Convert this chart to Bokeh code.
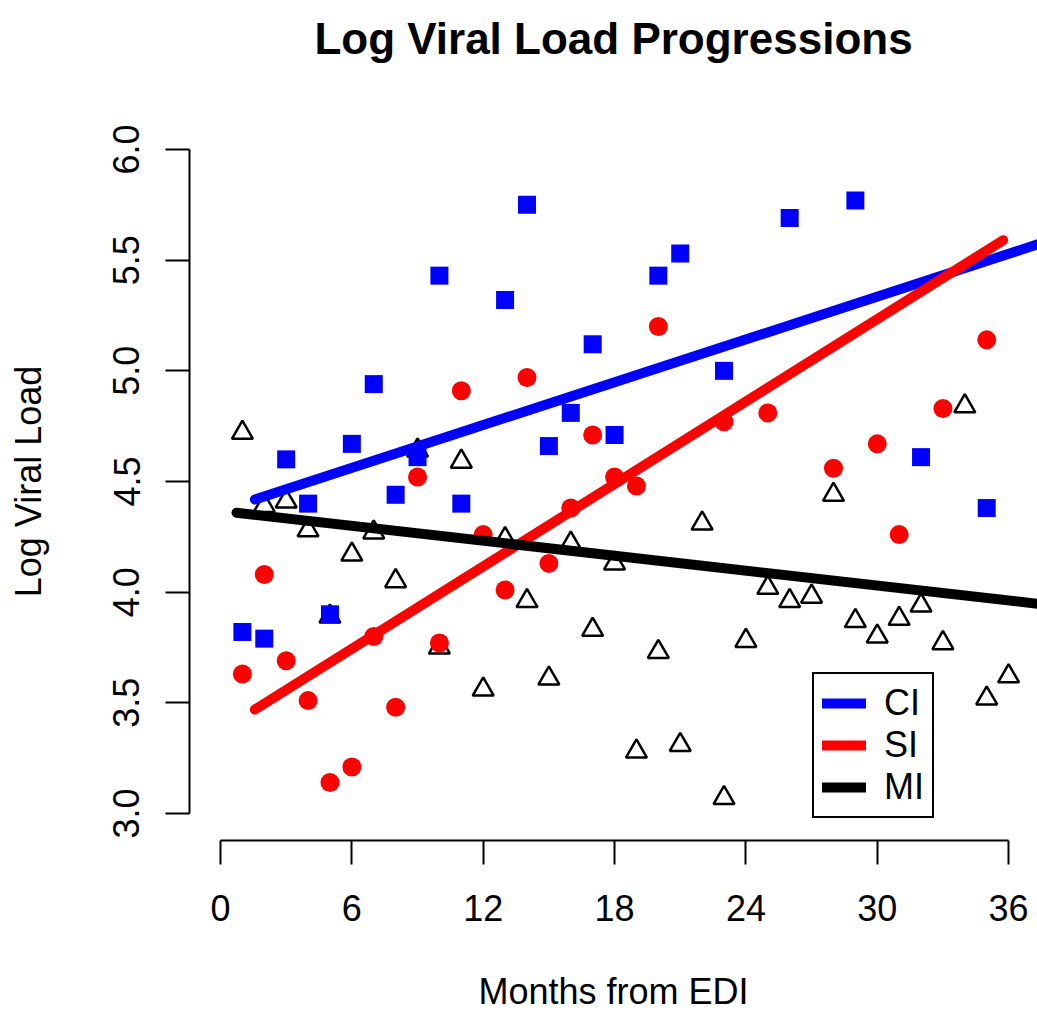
import numpy as np
from bokeh.plotting import figure
from bokeh.models import (Range1d, Legend, LegendItem, FixedTicker, PrintfTickFormatter, Title)
from bokeh.embed import file_html
from bokeh.resources import INLINE

# ---- data ----
ci_months = [1, 2, 3, 4, 5, 6, 7, 8, 9, 10, 11, 13, 14, 15, 16, 17, 18, 20, 21, 23, 26, 29, 32, 35]
ci_vl = [3.82, 3.79, 4.60, 4.40, 3.90, 4.67, 4.94, 4.44, 4.61, 5.43, 4.40, 5.32, 5.75, 4.66,
         4.81, 5.12, 4.71, 5.43, 5.53, 5.00, 5.69, 5.77, 4.61, 4.38]

si_months = [1, 2, 3, 4, 5, 6, 7, 8, 9, 10, 11, 12, 13, 14, 15, 16, 17, 18, 19, 20, 23, 25, 28, 30, 31, 33, 35]
si_vl = [3.63, 4.08, 3.69, 3.51, 3.14, 3.21, 3.80, 3.48, 4.52, 3.77, 4.91, 4.26, 4.01, 4.97,
         4.13, 4.38, 4.71, 4.52, 4.48, 5.20, 4.77, 4.81, 4.56, 4.67, 4.26, 4.83, 5.14]

mi_months = list(range(1, 37))
mi_vl = [4.72, 4.39, 4.41, 4.28, 3.89, 4.17, 4.27, 4.05, 4.64, 3.75, 4.59, 3.56, 4.24, 3.96,
         3.61, 4.22, 3.83, 4.13, 3.28, 3.73, 3.31, 4.31, 3.07, 3.78, 4.02, 3.96, 3.98, 4.44,
         3.87, 3.80, 3.88, 3.94, 3.77, 4.84, 3.52, 3.62]

fit_groups = ["CI", "SI", "MI"]
fit_intercept = [4.368, 3.372, 4.367]
fit_slope = [0.03224, 0.06205, -0.01124]
fit_start = [1.57, 1.57, 0.73]
fit_end = [38.0, 35.75, 38.0]
fit_colors = ["#0000FF", "#FF0000", "#000000"]

x_ticks = [0, 6, 12, 18, 24, 30, 36]
y_ticks = [3.0, 3.5, 4.0, 4.5, 5.0, 5.5, 6.0]
title_text = "Log Viral Load Progressions"

FONT = "Liberation Sans"

p = figure(width=1037, height=1015,
           x_range=Range1d(-1.416, 37.32), y_range=Range1d(2.878, 6.122),
           output_backend="svg", toolbar_location=None,
           min_border_left=189, min_border_right=0,
           min_border_top=122, min_border_bottom=175,
           background_fill_color="white", border_fill_color="white",
           outline_line_color=None)
p.grid.visible = False
p.title.visible = False

xa = p.below[0]
ya = p.left[0]

# spacer title directly above the frame, then the real title stacked outside it
p.add_layout(Title(text=" ", text_font=FONT, text_font_size="10px", standoff=42), "above")
p.add_layout(Title(text=title_text, align="center", text_font=FONT, text_font_size="44px",
                   text_font_style="bold", text_color="black", standoff=10, offset=4), "above")

for ax, ticks, lab in ((xa, x_ticks, "Months from EDI"), (ya, y_ticks, "Log Viral Load")):
    ax.ticker = FixedTicker(ticks=ticks)
    ax.bounds = (ticks[0], ticks[-1])
    ax.major_tick_out = 24
    ax.major_tick_in = 0
    ax.minor_tick_out = 0
    ax.minor_tick_in = 0
    ax.axis_line_width = 2
    ax.major_tick_line_width = 2
    ax.axis_line_color = "black"
    ax.major_tick_line_color = "black"
    ax.major_label_text_font = FONT
    ax.major_label_text_font_size = "36px"
    ax.major_label_text_color = "black"
    ax.axis_label = lab
    ax.axis_label_text_font = FONT
    ax.axis_label_text_font_size = "36px"
    ax.axis_label_text_font_style = "normal"
    ax.axis_label_text_color = "black"

xa.major_label_standoff = 30
xa.axis_label_standoff = 47
ya.major_label_standoff = 26
ya.axis_label_standoff = 62
ya.major_label_orientation = "vertical"
ya.formatter = PrintfTickFormatter(format="%.1f")

# points
p.scatter(mi_months, mi_vl, marker="triangle", size=21, fill_color=None,
          line_color="black", line_width=2.5)
p.scatter(si_months, si_vl, marker="circle", size=19, fill_color="#FF0000", line_color=None)
p.scatter(ci_months, ci_vl, marker="square", size=18, fill_color="#0000FF", line_color=None)

# fitted lines
renderers = []
for g, a, b, x0, x1, c in zip(fit_groups, fit_intercept, fit_slope, fit_start, fit_end, fit_colors):
    xs = np.array([x0, x1])
    ys = a + b * xs
    r = p.line(xs, ys, line_width=10, line_color=c, line_cap="round")
    renderers.append(r)

legend = Legend(items=[LegendItem(label=g, renderers=[r]) for g, r in zip(fit_groups, renderers)],
                location=(623, 22), margin=0, padding=8, spacing=0,
                glyph_width=44, glyph_height=20, label_standoff=18,
                label_text_font=FONT, label_text_font_size="36px",
                label_text_color="black",
                border_line_color="black", border_line_width=2, border_line_alpha=1.0,
                background_fill_color="white", background_fill_alpha=1.0)
p.add_layout(legend)

open("out.html", "w").write(file_html(p, INLINE))
